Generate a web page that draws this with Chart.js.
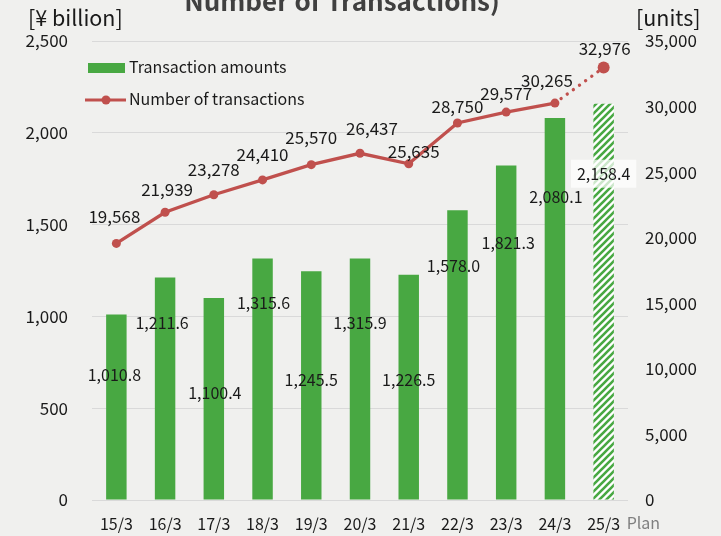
<!DOCTYPE html>
<html>
<head>
<meta charset="utf-8">
<script src="https://cdn.jsdelivr.net/npm/chart.js@4.4.1/dist/chart.umd.min.js"></script>
<style>
  html, body { margin: 0; padding: 0; background: #f0f0ee; }
  #wrap { width: 721px; height: 536px; }
</style>
</head>
<body>
<div id="wrap"><canvas id="txChart" width="721" height="536"></canvas></div>
<script>
// fiscal year ends (last one is the plan figure)
const periods = ['15/3', '16/3', '17/3', '18/3', '19/3', '20/3', '21/3', '22/3', '23/3', '24/3', '25/3'];
const amounts = [1010.8, 1211.6, 1100.4, 1315.6, 1245.5, 1315.9, 1226.5, 1578.0, 1821.3, 2080.1, 2158.4];
const counts = [19568, 21939, 23278, 24410, 25570, 26437, 25635, 28750, 29577, 30265, 32976];
const amountTicks = [0, 500, 1000, 1500, 2000, 2500];
const countTicks = [0, 5000, 10000, 15000, 20000, 25000, 30000, 35000];
const planIndex = periods.length - 1;

const FONT = '"Noto Sans CJK JP", "Noto Sans", sans-serif';
const GREEN = '#48a842';
const RED = '#c0504d';

Chart.defaults.font.family = FONT;
Chart.defaults.color = '#1a1a1a';

// striped fill for the plan bar
function stripePattern() {
  const c = document.createElement('canvas');
  c.width = 7; c.height = 7;
  const g = c.getContext('2d');
  g.fillStyle = '#ffffff';
  g.fillRect(0, 0, 7, 7);
  g.strokeStyle = GREEN;
  g.lineWidth = 2.6;
  g.beginPath();
  g.moveTo(-1, 8); g.lineTo(8, -1);
  g.moveTo(-4, 4); g.lineTo(4, -4);
  g.moveTo(3, 11); g.lineTo(11, 3);
  g.stroke();
  return g.createPattern(c, 'repeat');
}
const hatch = stripePattern();

const fmt0 = v => v.toLocaleString('en-US');
const fmt1 = v => v.toLocaleString('en-US', { minimumFractionDigits: 1, maximumFractionDigits: 1 });

// value labels, headings, legend and the "Plan" note
const decorations = {
  id: 'decorations',
  afterDatasetsDraw(chart, args, opts) {
    const { ctx } = chart;
    ctx.save();
    ctx.textAlign = 'center';
    ctx.textBaseline = 'middle';

    // bar values
    ctx.font = '16px ' + FONT;
    chart.getDatasetMeta(1).data.forEach((bar, i) => {
      const text = fmt1(amounts[i]);
      const x = bar.x + opts.barDx[i];
      const y = bar.y + opts.barDy[i];
      if (i === planIndex) {
        const w = ctx.measureText(text).width + 12;
        ctx.fillStyle = 'rgba(255,255,255,0.72)';
        ctx.fillRect(x - w / 2, y - 14, w, 28);
      }
      ctx.fillStyle = '#1a1a1a';
      ctx.fillText(text, x, y);
    });

    // count values
    ctx.font = '17px ' + FONT;
    ctx.fillStyle = '#1a1a1a';
    chart.getDatasetMeta(0).data.forEach((pt, i) => {
      ctx.fillText(fmt0(counts[i]), pt.x + opts.lineDx[i], pt.y + opts.lineDy[i]);
    });
    ctx.restore();
  },
  afterDraw(chart) {
    const { ctx } = chart;
    ctx.save();

    ctx.fillStyle = '#404040';
    ctx.font = 'bold 26px ' + FONT;
    ctx.textAlign = 'center';
    ctx.textBaseline = 'alphabetic';
    ctx.fillText('Number of Transactions)', 342, 11);

    ctx.fillStyle = '#1a1a1a';
    ctx.font = '21.5px ' + FONT;
    ctx.textAlign = 'left';
    ctx.fillText('[¥ billion]', 28, 26);
    ctx.fillText('[units]', 636, 26);

    // legend
    const ds = chart.data.datasets;
    ctx.font = '16px ' + FONT;
    ctx.textBaseline = 'middle';
    ctx.fillStyle = GREEN;
    ctx.fillRect(88, 63, 37, 10);
    ctx.fillStyle = '#1a1a1a';
    ctx.fillText(ds[1].label, 129, 67);

    ctx.strokeStyle = RED;
    ctx.lineWidth = 3;
    ctx.beginPath();
    ctx.moveTo(85, 100); ctx.lineTo(126, 100);
    ctx.stroke();
    ctx.fillStyle = RED;
    ctx.beginPath();
    ctx.arc(106, 100, 4.5, 0, Math.PI * 2);
    ctx.fill();
    ctx.fillStyle = '#1a1a1a';
    ctx.fillText(ds[0].label, 129, 99);

    // plan note next to the last category
    const xs = chart.scales.x;
    ctx.fillStyle = '#7f7f7f';
    ctx.fillText('Plan', xs.getPixelForValue(planIndex) + 23, 523);
    ctx.restore();
  }
};

new Chart(document.getElementById('txChart'), {
  data: {
    labels: periods,
    datasets: [
      {
        type: 'line',
        label: 'Number of transactions',
        data: counts,
        yAxisID: 'y1',
        order: 0,
        borderColor: RED,
        backgroundColor: RED,
        borderWidth: 3.3,
        borderCapStyle: 'round',
        pointRadius: ctx => ctx.dataIndex === planIndex ? 6 : 4.5,
        pointBorderWidth: 0,
        tension: 0,
        segment: {
          borderDash: ctx => ctx.p1DataIndex === planIndex ? [0.1, 7.5] : undefined
        }
      },
      {
        type: 'bar',
        label: 'Transaction amounts',
        data: amounts,
        yAxisID: 'y',
        order: 1,
        backgroundColor: ctx => ctx.dataIndex === planIndex ? hatch : GREEN,
        borderWidth: 0,
        barPercentage: 0.42,
        categoryPercentage: 1
      }
    ]
  },
  options: {
    responsive: false,
    devicePixelRatio: 1,
    animation: false,
    layout: { padding: { top: 41, left: 0, right: 0, bottom: 0 } },
    plugins: {
      legend: { display: false },
      tooltip: { enabled: false },
      decorations: {
        barDx: [-2, -3, 1, 1, 0, 0, 0, -4, 2, 1, 0],
        barDy: [61, 45, 95, 44, 109, 65, 105, 56, 77, 79, 70],
        lineDx: [-2, 2, 0, 0, 0, 12, 5, 0, 0, -8, 1],
        lineDy: [-27, -23, -25, -25, -27, -25, -12, -16, -19, -23, -19]
      }
    },
    scales: {
      x: {
        grid: { display: false },
        border: { display: false },
        ticks: { font: { size: 16 }, padding: 6, color: '#1a1a1a' },
        afterFit: s => { s.height = 36; }
      },
      y: {
        position: 'left',
        min: 0,
        max: 2500,
        afterBuildTicks: s => { s.ticks = amountTicks.map(v => ({ value: v })); },
        ticks: { font: { size: 17 }, padding: 24, callback: v => fmt0(v) },
        grid: { color: '#d9d9d9', lineWidth: 1, drawTicks: false },
        border: { display: false },
        afterFit: s => { s.width = 92; }
      },
      y1: {
        position: 'right',
        min: 0,
        max: 35000,
        afterBuildTicks: s => { s.ticks = countTicks.map(v => ({ value: v })); },
        ticks: { font: { size: 17 }, padding: 17, callback: v => fmt0(v) },
        grid: { drawOnChartArea: false, drawTicks: false },
        border: { display: false },
        afterFit: s => { s.width = 93; }
      }
    }
  },
  plugins: [decorations]
});
</script>
</body>
</html>
